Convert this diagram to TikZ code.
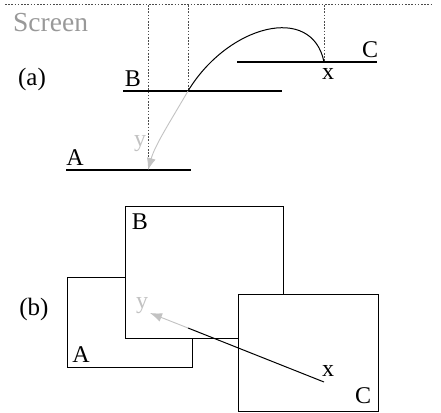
\documentclass[tikz,border=0pt]{standalone}
\usepackage{fontspec}
\setmainfont{Liberation Serif}
\usetikzlibrary{arrows.meta}
\definecolor{lgray}{gray}{0.76}
\definecolor{sgray}{gray}{0.6}
\begin{document}
\begin{tikzpicture}[x=1pt,y=-1pt,
  lbl/.style={inner sep=0pt,font=\fontsize{24}{26}\selectfont},
  plbl/.style={inner sep=0pt,font=\fontsize{25}{27}\selectfont},
  glbl/.style={lbl,text=lgray},
  level/.style={line width=1.1pt},
  guide/.style={line width=1pt,black!70,dash pattern=on 1.6pt off 1.6pt},
  win/.style={draw,fill=white,line width=0.9pt},
  garrow/.style={line width=0.9pt,draw=lgray,-{Latex[length=12pt,width=9pt,fill=lgray]}}]
\useasboundingbox (0,0) rectangle (441,412);
% (a)
\coordinate (s0) at (5,5); \coordinate (s1) at (431,5);
\draw[guide] (s0) -- (s1);
\node[anchor=west,inner sep=0pt,text=sgray,font=\fontsize{27.5}{29}\selectfont] (screen) at (13,23) {Screen};
\node[plbl] (la) at (32,79) {(a)};
\coordinate (a0) at (66,170); \coordinate (a1) at (191,170);
\coordinate (b0) at (123,91); \coordinate (b1) at (282,91);
\coordinate (c0) at (237,62); \coordinate (c1) at (377,62);
\coordinate (ya) at (148,170); \coordinate (pb) at (188,91); \coordinate (xa) at (324,62);
\draw[guide] (148,5) -- (ya);
\draw[guide] (188,5) -- (pb);
\draw[guide] (324,5) -- (xa);
\draw[level] (a0) -- (a1);
\draw[level] (b0) -- (b1);
\draw[level] (c0) -- (c1);
\node[lbl] (tA) at (75,158) {A};
\node[lbl] (tB) at (133,79) {B};
\node[lbl] (tC) at (370,50) {C};
\node[lbl] (tx) at (328,74) {x};
\node[glbl] (ty) at (140,144) {y};
\draw[line width=1pt] (pb) .. controls (228,25) and (312,3) .. (xa);
\draw[garrow] (pb) .. controls (170,122) and (155,145) .. (ya);
% (b)
\node[plbl] (lb) at (34,309) {(b)};
\draw[win] (67,277) rectangle (192,367);
\draw[win] (125,206) rectangle (283,338);
\draw[win] (238,294) rectangle (378,411);
\node[lbl] (bA) at (81,355) {A};
\node[lbl] (bB) at (140,222) {B};
\node[lbl] (bC) at (363,396) {C};
\node[lbl] (bx) at (328,371) {x};
\node[glbl] (by) at (142,306) {y};
\coordinate (xb) at (324,382); \coordinate (mb) at (188,328); \coordinate (yb) at (150,313);
\draw[line width=1pt] (xb) -- (mb);
\draw[garrow] (mb) -- (yb);
\end{tikzpicture}
\end{document}
